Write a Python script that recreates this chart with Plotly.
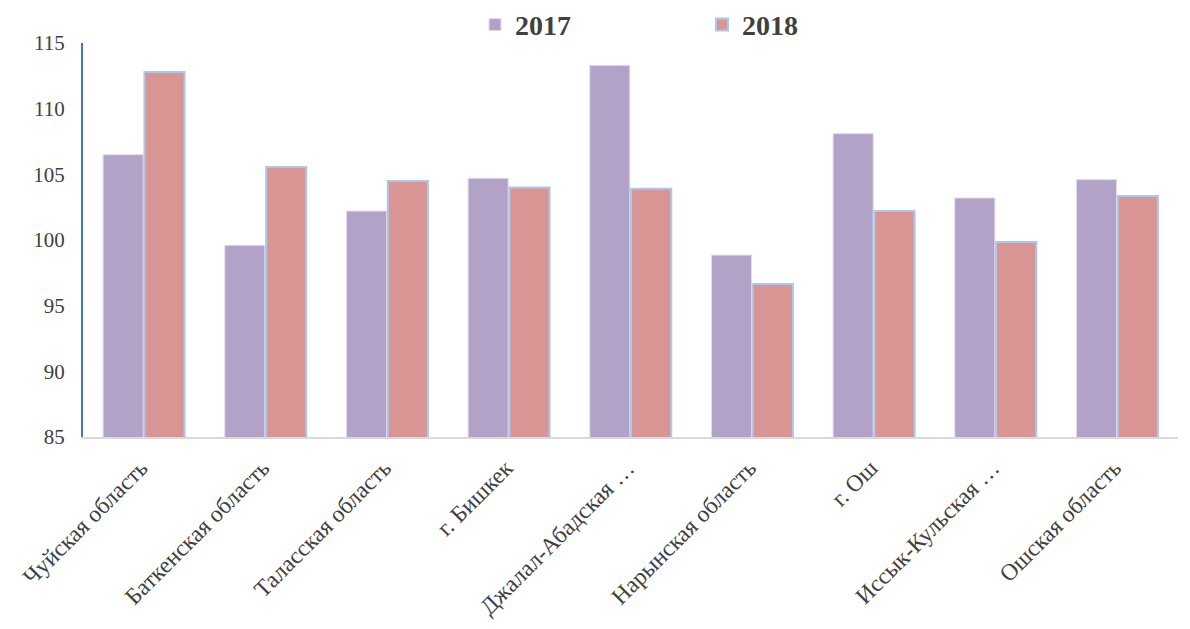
import plotly.graph_objects as go

categories = ["Чуйская область", "Баткенская область", "Таласская область", "г. Бишкек",
              "Джалал-Абадская …", "Нарынская область", "г. Ош", "Иссык-Кульская …", "Ошская область"]
values_2017 = [106.5, 99.6, 102.2, 104.7, 113.3, 98.85, 108.1, 103.2, 104.6]
values_2018 = [112.8, 105.55, 104.5, 104.0, 103.9, 96.65, 102.2, 99.85, 103.35]
y_ticks = [85, 90, 95, 100, 105, 110, 115]

fig = go.Figure()
fig.add_trace(go.Bar(name="2017", x=categories, y=values_2017,
                     marker=dict(color="#B3A2C7", line=dict(color="#E4DCEE", width=1))))
fig.add_trace(go.Bar(name="2018", x=categories, y=values_2018,
                     marker=dict(color="#D99594", line=dict(color="#A9C8EA", width=2))))

fig.update_layout(
    width=1190, height=629,
    margin=dict(l=75, r=20, t=35, b=200, autoexpand=False),
    paper_bgcolor="white", plot_bgcolor="white",
    barmode="group", bargap=0.32, bargroupgap=0.03,
    font=dict(family="Liberation Serif, Times New Roman, serif", color="#404040", size=20),
    legend=dict(orientation="h", x=0.358, xanchor="left", y=1.046, yanchor="middle",
                entrywidth=182, entrywidthmode="pixels",
                font=dict(size=28, color="#404040", family="Liberation Serif, serif", weight="bold")),
    showlegend=True,
)
fig.update_yaxes(range=[85, 115], tickvals=y_ticks, showgrid=False, zeroline=False,
                 showline=True, linecolor="#4472C4", linewidth=2, ticks="",
                 ticklabelstandoff=12, automargin=False,
                 tickfont=dict(size=21, color="#404040"))
fig.update_xaxes(showgrid=False, showline=True, linecolor="#D9D9D9", linewidth=2, ticks="",
                 tickangle=-45, automargin=False, ticklabelstandoff=6, ticklabelshift=-3,
                 tickfont=dict(size=23.5, color="#404040"))

fig.write_html("out.html")
